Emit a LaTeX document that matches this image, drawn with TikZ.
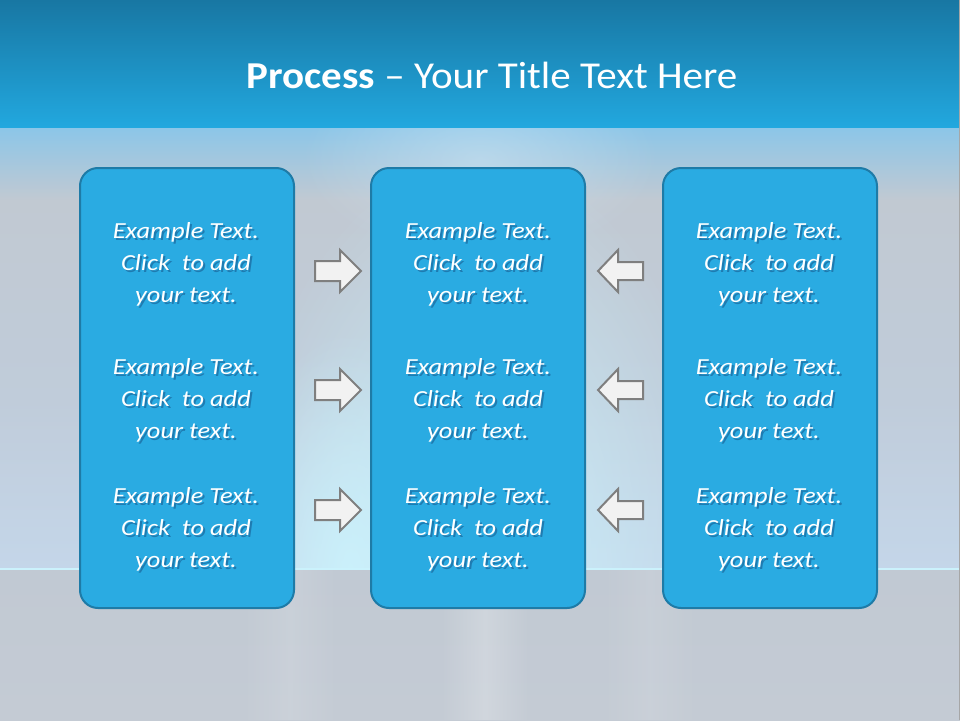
\documentclass[tikz,border=0pt]{standalone}
\usepackage{fontspec}
\setmainfont{Carlito}
\newfontfamily\titlefont[FakeStretch=1.08]{Carlito}
\newfontfamily\boxfont[FakeStretch=1.15]{Carlito}
\usetikzlibrary{fadings}
\definecolor{bandtop}{HTML}{1877A3}
\definecolor{bandbot}{HTML}{22A8DF}
\definecolor{skyA}{HTML}{8CC6E8}
\definecolor{skyB}{HTML}{C1C9D2}
\definecolor{skyC}{HTML}{C0CCDA}
\definecolor{skyD}{HTML}{C4D6E9}
\definecolor{floorA}{HTML}{C1C9D3}
\definecolor{floorB}{HTML}{C4CBD4}
\definecolor{glow}{HTML}{CBF2FC}
\definecolor{boxfill}{HTML}{2AABE2}
\definecolor{boxline}{HTML}{1E7BA7}
\definecolor{arrfill}{HTML}{F2F2F2}
\definecolor{arrline}{HTML}{7F7F7F}
\tikzfading[name=softblob, inner color=transparent!0, outer color=transparent!100]
\tikzfading[name=hglow, left color=transparent!100, right color=transparent!100, middle color=transparent!0]
\tikzset{
  stepbox/.style={draw=boxline, line width=2pt, fill=boxfill, rounded corners=18pt},
  arrowshape/.style={draw=arrline, line width=2pt, fill=arrfill, line join=miter},
  btext/.style={align=center, text=white, font=\boxfont\itshape\fontsize{23}{32}\selectfont, inner sep=0pt},
  bshadow/.style={align=center, text=black!80!blue, opacity=0.28, font=\boxfont\itshape\fontsize{23}{32}\selectfont, inner sep=0pt},
  ttext/.style={text=white, font=\titlefont\fontsize{38}{42}\selectfont, inner sep=0pt}
}
\begin{document}
\begin{tikzpicture}[x=1pt,y=-1pt]
\useasboundingbox (0,0) rectangle (960,720);
% background
\shade[top color=bandtop, bottom color=bandbot] (0,0) rectangle (960,128);
\shade[top color=skyA, bottom color=skyB] (0,128) rectangle (960,200);
\shade[top color=skyB, bottom color=skyC] (0,200) rectangle (960,400);
\shade[top color=skyC, bottom color=skyD] (0,400) rectangle (960,569);
\begin{scope}
  \clip (0,128) rectangle (960,569);
  \fill[glow, path fading=softblob, fit fading=true, opacity=0.9] (230,150) rectangle (730,990);
  \fill[glow, path fading=softblob, fit fading=true, opacity=0.9] (230,330) rectangle (470,810);
  \fill[skyA!40!white, path fading=softblob, fit fading=true, opacity=0.5] (300,60) rectangle (660,260);
\end{scope}
\shade[top color=floorA, bottom color=floorB] (0,569) rectangle (960,720);
\fill[white, path fading=hglow, opacity=0.22] (440,569) rectangle (530,720);
\fill[white, path fading=hglow, opacity=0.12] (240,569) rectangle (340,720);
\fill[white, path fading=hglow, opacity=0.10] (600,569) rectangle (700,720);
\draw[glow, line width=2pt] (0,569) -- (960,569);
\draw[gray!70, line width=1pt] (959,0) -- (959,720);
% title
\node[ttext] (title) at (492,75) {\textbf{Process} – Your Title Text Here};
% boxes
\foreach \n/\x in {L/80, M/371, R/663} {
  \draw[stepbox] (\x,168) rectangle ++(214,440);
  \coordinate (box\n) at (\x+107,168);
}
% texts
\foreach \n/\cx in {L/186, M/478, R/769} {
  \foreach \k/\cy in {1/264, 2/400, 3/529} {
    \node[bshadow] (s\n\k) at (\cx+2,\cy+2.5) {Example Text.\\Click\ \ to add\\your text.};
    \node[btext] (t\n\k) at (\cx,\cy) {Example Text.\\Click\ \ to add\\your text.};
  }
}
% arrows
\foreach \k/\cy in {1/271, 2/390, 3/510} {
  \draw[arrowshape] (315,\cy-10) -- (340,\cy-10) -- (340,\cy-21) -- (361,\cy) -- (340,\cy+21) -- (340,\cy+10) -- (315,\cy+10) -- cycle;
  \coordinate (ra\k) at (338,\cy);
  \draw[arrowshape] (643,\cy-9) -- (618,\cy-9) -- (618,\cy-21) -- (598,\cy) -- (618,\cy+21) -- (618,\cy+9) -- (643,\cy+9) -- cycle;
  \coordinate (la\k) at (620,\cy);
}
\end{tikzpicture}
\end{document}
